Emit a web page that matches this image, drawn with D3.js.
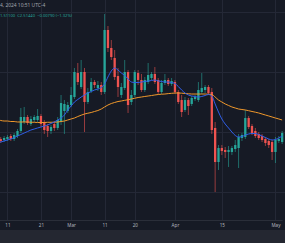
<!DOCTYPE html>
<html>
<head>
<meta charset="utf-8">
<script src="https://cdn.jsdelivr.net/npm/d3@7"></script>
<style>
  html, body { margin: 0; padding: 0; background: #161a25; overflow: hidden; }
  svg { display: block; font-family: "Noto Sans", "DejaVu Sans", sans-serif; }
</style>
</head>
<body>
<svg id="chart" width="285" height="243"></svg>
<script>
// daily candles, first one is Feb 8 2024
const firstDay = Date.UTC(2024, 1, 8);

const opens = [
  .4850, .4883, .4867, .4883, .4933, .4883, .4933, .5017, .5167, .5250,
  .5133, .5200, .5200, .5267, .5167, .5100, .5017, .5133, .5067, .5167,
  .5350, .5350, .5450, .5583, .5983, .5750, .6000, .5500, .5683, .5833,
  .5733, .5783, .5667, .6700, .6400, .6233, .5933, .5617, .5733, .6000,
  .5500, .5617, .5983, .5867, .5700, .5833, .5900, .5967, .5867, .5667,
  .5817, .5867, .5800, .5833, .5667, .5533, .5367, .5533, .5467, .5550,
  .5533, .5667, .5700, .5750, .5667, .5067, .4500, .4733, .4700, .4667,
  .4667, .4717, .4733, .4900, .4917, .5233, .5100, .5017, .4967, .4933,
  .4883, .4850, .4833, .4667, .4850, .4833
];
const highs = [
  .4917, .4917, .4933, .4950, .4967, .4983, .5050, .5400, .5417, .5283,
  .5267, .5283, .5383, .5300, .5200, .5133, .5117, .5183, .5250, .5617,
  .5533, .5500, .5750, .6067, .6150, .6200, .6067, .5733, .5900, .5867,
  .5850, .5833, .6967, .6767, .6533, .6367, .6067, .5817, .6200, .6033,
  .5700, .6033, .6033, .5967, .5917, .6150, .6000, .6083, .5900, .5867,
  .5967, .5900, .5900, .5867, .5700, .5617, .5583, .5567, .5600, .5617,
  .5833, .5983, .5783, .5783, .5733, .5167, .4783, .4783, .4750, .4767,
  .4767, .4867, .4967, .4983, .5367, .5267, .5133, .5067, .5000, .4967,
  .4917, .4883, .4867, .4917, .4933, .5017
];
const lows = [
  .4800, .4817, .4833, .4850, .4850, .4850, .4900, .4983, .5133, .5117,
  .5100, .5167, .5167, .5083, .4967, .4917, .4967, .5017, .5033, .5117,
  .4967, .5317, .5417, .5550, .5783, .5717, .5000, .5467, .5650, .5733,
  .5683, .5617, .5633, .6333, .6200, .5867, .5583, .5567, .5700, .5317,
  .5450, .5583, .5783, .5667, .5667, .5800, .5867, .5800, .5633, .5633,
  .5783, .5767, .5767, .5633, .5467, .5250, .5333, .5283, .5433, .5517,
  .5500, .5633, .5650, .5617, .4967, .4000, .4367, .4617, .4567, .4417,
  .4617, .4667, .4400, .4850, .4883, .5050, .4950, .4900, .4867, .4833,
  .4767, .4733, .4533, .4483, .4817, .4800
];
const closes = [
  .4883, .4850, .4900, .4917, .4883, .4950, .5017, .5250, .5250, .5150,
  .5217, .5250, .5267, .5133, .5033, .5017, .5083, .5067, .5200, .5483,
  .5467, .5450, .5617, .6000, .5833, .6000, .5500, .5667, .5833, .5783,
  .5783, .5667, .6700, .6400, .6250, .5917, .5750, .5750, .6000, .5450,
  .5617, .6000, .5867, .5700, .5867, .5950, .5967, .5833, .5667, .5817,
  .5867, .5800, .5850, .5667, .5500, .5333, .5533, .5433, .5567, .5583,
  .5700, .5733, .5750, .5650, .5033, .4500, .4733, .4683, .4667, .4700,
  .4733, .4783, .4917, .4950, .5233, .5083, .4983, .4933, .4900, .4867,
  .4817, .4783, .4667, .4867, .4883, .4983
];

// moving averages as drawn on the chart (blue = fast, orange = slow)
const maFast = [
  .4817, .4833, .4850, .4867, .4883, .4908, .4933, .4958, .4983, .5008,
  .5033, .5050, .5067, .5083, .5100, .5117, .5142, .5167, .5200, .5233,
  .5283, .5367, .5433, .5500, .5542, .5583, .5617, .5650, .5675, .5700,
  .5717, .5742, .5800, .5917, .6017, .6067, .6033, .5983, .5942, .5883,
  .5833, .5825, .5825, .5833, .5842, .5850, .5858, .5867, .5850, .5842,
  .5833, .5833, .5825, .5808, .5758, .5700, .5650, .5617, .5600, .5592,
  .5583, .5592, .5608, .5625, .5600, .5467, .5333, .5217, .5133, .5067,
  .5000, .4942, .4917, .4925, .4950, .4967, .4975, .4975, .4958, .4933,
  .4908, .4883, .4867, .4875, .4900, .4933
];
const maSlow = [
  .5200, .5192, .5183, .5183, .5175, .5175, .5167, .5167, .5167, .5167,
  .5163, .5162, .5158, .5158, .5158, .5162, .5162, .5163, .5167, .5175,
  .5183, .5200, .5217, .5233, .5258, .5280, .5300, .5313, .5325, .5342,
  .5358, .5383, .5417, .5450, .5475, .5492, .5508, .5517, .5528, .5538,
  .5550, .5563, .5575, .5583, .5592, .5600, .5608, .5617, .5625, .5630,
  .5633, .5640, .5645, .5650, .5650, .5647, .5642, .5637, .5633, .5633,
  .5633, .5633, .5633, .5630, .5625, .5583, .5533, .5500, .5467, .5442,
  .5417, .5400, .5383, .5375, .5367, .5355, .5342, .5330, .5317, .5300,
  .5283, .5267, .5250, .5233, .5217, .5200
];

const timeTicks = [[1, 11], [1, 21], [2, 1], [2, 11], [2, 20], [3, 1], [3, 15], [4, 1]];
const timeLabels = ["11", "21", "Mar", "11", "20", "Apr", "15", "May"];
const priceGrid = [0.4, 0.5, 0.6, 0.7];

const headerTime = "4, 2024 10:51 UTC-4";
const headerOhlc = "1.51100  C2.51440  \u22120.00790 (\u22121.32%)";

const W = 285, H = 243, plotBottom = 220;
const bg = "#161a25", gridColor = "#242836", upColor = "#26a69a", downColor = "#ef5350";

const days = closes.map((c, i) => new Date(firstDay + i * 864e5));
const candles = days.map((d, i) => ({ date: d, o: opens[i], h: highs[i], l: lows[i], c: closes[i] }));

const svg = d3.select("#chart");
svg.append("rect").attr("width", W).attr("height", H).attr("fill", bg);
svg.append("rect").attr("y", 230).attr("width", W).attr("height", H - 230).attr("fill", "#242731");

const x = d3.scaleUtc()
  .domain([days[0], days[days.length - 1]])
  .range([-2.6, 282.15]);
const y = d3.scaleLinear().domain([0.4, 0.72]).range([192, 0]);

svg.append("clipPath").attr("id", "plot")
  .append("rect").attr("width", W).attr("height", plotBottom);

// grid
const grid = svg.append("g").attr("stroke", gridColor).attr("stroke-width", 1);
const tickDates = timeTicks.map(([m, d]) => new Date(Date.UTC(2024, m, d)));
grid.selectAll("line.v").data(tickDates).join("line")
  .attr("x1", d => Math.round(x(d)) + 0.5).attr("x2", d => Math.round(x(d)) + 0.5)
  .attr("y1", 0).attr("y2", plotBottom);
grid.selectAll("line.h").data(priceGrid).join("line")
  .attr("x1", 0).attr("x2", W)
  .attr("y1", d => Math.round(y(d)) + 0.5).attr("y2", d => Math.round(y(d)) + 0.5);

// time axis
const xAxis = d3.axisBottom(x).tickValues(tickDates)
  .tickFormat((d, i) => timeLabels[i]).tickSize(0).tickPadding(3.5);
const ax = svg.append("g").attr("transform", `translate(0,${plotBottom})`).call(xAxis);
ax.select(".domain").attr("stroke", "#2a2e39");
ax.selectAll("text").attr("fill", "#b2b5be").attr("font-size", 4.6).attr("font-family", "Noto Sans, DejaVu Sans, sans-serif");

const plot = svg.append("g").attr("clip-path", "url(#plot)");

// candles
const bodyW = 2.3;
const cg = plot.selectAll("g.candle").data(candles).join("g")
  .attr("fill", d => d.c >= d.o ? upColor : downColor)
  .attr("stroke", d => d.c >= d.o ? upColor : downColor);
cg.append("line")
  .attr("x1", d => x(d.date)).attr("x2", d => x(d.date))
  .attr("y1", d => y(d.h)).attr("y2", d => y(d.l))
  .attr("stroke-width", 0.7).attr("stroke-opacity", 0.85);
cg.append("rect")
  .attr("x", d => x(d.date) - bodyW / 2).attr("width", bodyW)
  .attr("y", d => y(Math.max(d.o, d.c)))
  .attr("height", d => Math.max(0.8, Math.abs(y(d.o) - y(d.c))))
  .attr("stroke", "none");

// moving averages
const line = d3.line().x((d, i) => x(days[i])).y(d => y(d)).curve(d3.curveMonotoneX);
plot.append("path").datum(maSlow).attr("d", line)
  .attr("fill", "none").attr("stroke", "#f0982b").attr("stroke-width", 1);
plot.append("path").datum(maFast).attr("d", line)
  .attr("fill", "none").attr("stroke", "#2f5ee8").attr("stroke-width", 1);

// header legend
svg.append("text").attr("x", 0).attr("y", 7).attr("font-size", 4.9)
  .attr("fill", "#a3a6af").text(headerTime);
svg.append("text").attr("x", 0).attr("y", 16.5).attr("font-size", 4.1)
  .attr("fill", upColor).attr("xml:space", "preserve").text(headerOhlc);
</script>
</body>
</html>
